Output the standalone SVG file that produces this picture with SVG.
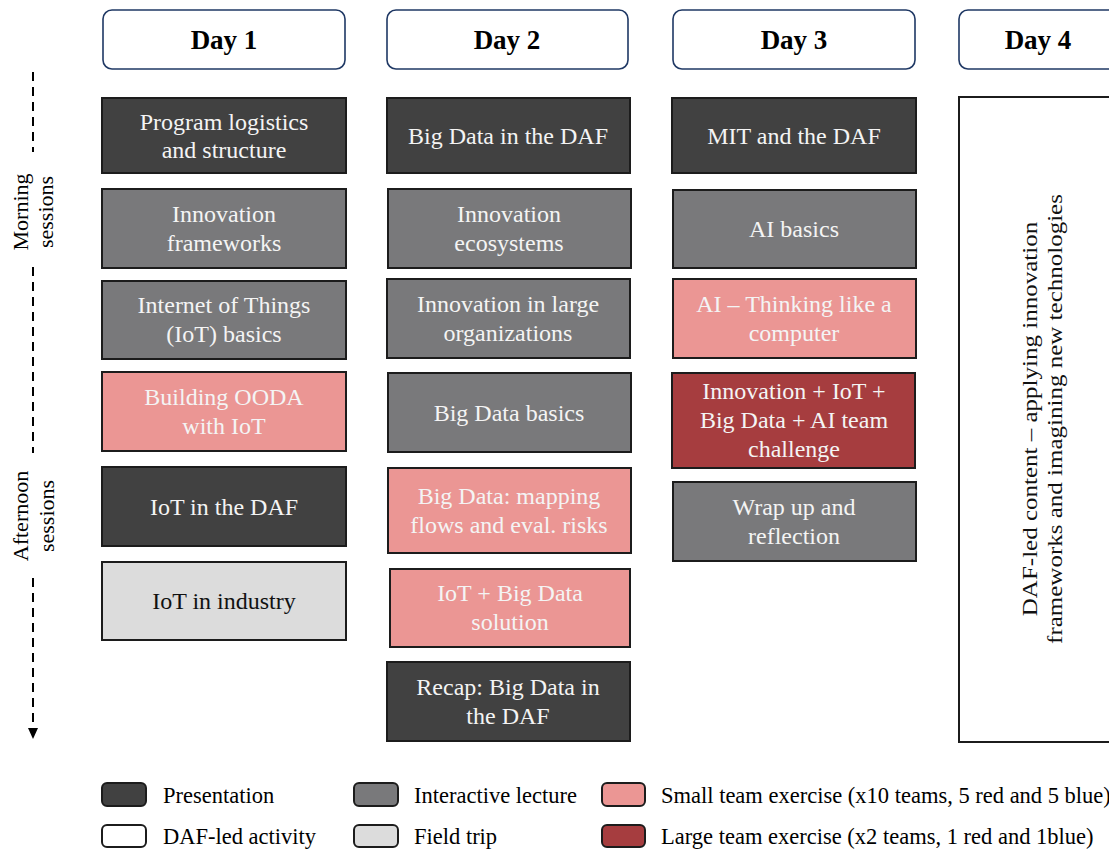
<svg xmlns="http://www.w3.org/2000/svg" width="1109" height="850" viewBox="0 0 1109 850">
<style>
text{font-family:"Liberation Serif","Times New Roman",serif;}
.hdr{fill:#fff;stroke:#1f3864;stroke-width:1.6;}
.ht{font-size:27px;font-weight:bold;fill:#000;text-anchor:middle;}
.box{stroke:#1c1c1c;stroke-width:2;}
.pres{fill:#414141;}
.lect{fill:#79797b;}
.small{fill:#eb9694;}
.large{fill:#a63d3f;}
.field{fill:#dcdcdc;}
.daf{fill:#fff;}
.bt{font-size:24px;fill:#f4f4f4;text-anchor:middle;}
.btd{font-size:24px;fill:#111;text-anchor:middle;}
.d4t{font-size:25px;fill:#111;text-anchor:middle;}
.ax{font-size:22px;fill:#000;text-anchor:middle;}
.lg{font-size:22.5px;fill:#000;}
.sw{stroke:#1c1c1c;stroke-width:2;}
.dash{stroke:#000;stroke-width:2;stroke-dasharray:9 6;fill:none;}
</style>

<g id="header-day1"><rect class="hdr" x="103" y="10" width="242" height="59" rx="9"/><text class="ht" x="224" y="49">Day 1</text></g>
<g id="header-day2"><rect class="hdr" x="387" y="10" width="241" height="59" rx="9"/><text class="ht" x="507" y="49">Day 2</text></g>
<g id="header-day3"><rect class="hdr" x="673" y="10" width="242" height="59" rx="9"/><text class="ht" x="794" y="49">Day 3</text></g>
<g id="header-day4"><rect class="hdr" x="959" y="10" width="200" height="59" rx="9"/><text class="ht" x="1038" y="49">Day 4</text></g>

<!-- Day 1 -->
<g id="d1-program"><rect class="box pres" x="102" y="98" width="244" height="75"/><text class="bt" x="224" y="130">Program logistics</text><text class="bt" x="224" y="158">and structure</text></g>
<g id="d1-frameworks"><rect class="box lect" x="102" y="189" width="244" height="79"/><text class="bt" x="224" y="222">Innovation</text><text class="bt" x="224" y="251">frameworks</text></g>
<g id="d1-iot-basics"><rect class="box lect" x="102" y="281" width="244" height="78"/><text class="bt" x="224" y="313">Internet of Things</text><text class="bt" x="224" y="342">(IoT) basics</text></g>
<g id="d1-ooda"><rect class="box small" x="102" y="372" width="244" height="79"/><text class="bt" x="224" y="405">Building OODA</text><text class="bt" x="224" y="434">with IoT</text></g>
<g id="d1-iot-daf"><rect class="box pres" x="102" y="467" width="244" height="79"/><text class="bt" x="224" y="515">IoT in the DAF</text></g>
<g id="d1-iot-industry"><rect class="box field" x="102" y="562" width="244" height="78"/><text class="btd" x="224" y="609">IoT in industry</text></g>

<!-- Day 2 -->
<g id="d2-bigdata-daf"><rect class="box pres" x="387" y="98" width="243" height="75"/><text class="bt" x="508" y="144">Big Data in the DAF</text></g>
<g id="d2-ecosystems"><rect class="box lect" x="388" y="189" width="243" height="79"/><text class="bt" x="509" y="222">Innovation</text><text class="bt" x="509" y="251">ecosystems</text></g>
<g id="d2-large-orgs"><rect class="box lect" x="387" y="279" width="243" height="79"/><text class="bt" x="508" y="312">Innovation in large</text><text class="bt" x="508" y="341">organizations</text></g>
<g id="d2-bigdata-basics"><rect class="box lect" x="388" y="373" width="243" height="79"/><text class="bt" x="509" y="421">Big Data basics</text></g>
<g id="d2-mapping"><rect class="box small" x="388" y="468" width="243" height="85"/><text class="bt" x="509" y="504">Big Data: mapping</text><text class="bt" x="509" y="533">flows and eval. risks</text></g>
<g id="d2-solution"><rect class="box small" x="390" y="569" width="240" height="78"/><text class="bt" x="510" y="601">IoT + Big Data</text><text class="bt" x="510" y="630">solution</text></g>
<g id="d2-recap"><rect class="box pres" x="387" y="662" width="243" height="79"/><text class="bt" x="508" y="695">Recap: Big Data in</text><text class="bt" x="508" y="724">the DAF</text></g>

<!-- Day 3 -->
<g id="d3-mit"><rect class="box pres" x="672" y="98" width="244" height="75"/><text class="bt" x="794" y="144">MIT and the DAF</text></g>
<g id="d3-ai-basics"><rect class="box lect" x="673" y="190" width="243" height="78"/><text class="bt" x="794" y="237">AI basics</text></g>
<g id="d3-ai-thinking"><rect class="box small" x="673" y="279" width="243" height="79"/><text class="bt" x="794" y="312">AI – Thinking like a</text><text class="bt" x="794" y="341">computer</text></g>
<g id="d3-challenge"><rect class="box large" x="672" y="373" width="243" height="95"/><text class="bt" x="794" y="399">Innovation + IoT +</text><text class="bt" x="794" y="428">Big Data + AI team</text><text class="bt" x="794" y="457">challenge</text></g>
<g id="d3-wrapup"><rect class="box lect" x="673" y="482" width="243" height="79"/><text class="bt" x="794" y="515">Wrap up and</text><text class="bt" x="794" y="544">reflection</text></g>

<!-- Day 4 -->
<g id="d4-daf"><rect class="box daf" x="959" y="97" width="200" height="645"/>
<g transform="translate(1037,419) rotate(-90) scale(1,0.82)">
<text class="d4t" x="0" y="0">DAF-led content – applying innovation</text>
<text class="d4t" x="0" y="30.5">frameworks and imagining new technologies</text>
</g></g>

<!-- Axis -->
<g id="connectors">
<line class="dash" x1="33" y1="72" x2="33" y2="152"/>
<line class="dash" x1="33" y1="267" x2="33" y2="453"/>
<line class="dash" x1="33" y1="578" x2="33" y2="728"/>
<polygon points="28,728 38,728 33,739" fill="#000"/>
</g>
<g id="axis-labels">
<g transform="translate(28,212) rotate(-90)"><text class="ax" x="0" y="0">Morning</text><text class="ax" x="0" y="25">sessions</text></g>
<g transform="translate(28,516) rotate(-90)"><text class="ax" x="0" y="0">Afternoon</text><text class="ax" x="0" y="26">sessions</text></g>
</g>

<!-- Legend -->
<g id="legend">
<g id="lg-presentation"><rect class="sw pres" x="102" y="783" width="44" height="23" rx="5"/><text class="lg" x="163" y="803">Presentation</text></g>
<g id="lg-daf"><rect class="sw daf" x="102" y="825" width="44" height="22" rx="5"/><text class="lg" x="163" y="844">DAF-led activity</text></g>
<g id="lg-lecture"><rect class="sw lect" x="354" y="783" width="44" height="23" rx="5"/><text class="lg" x="414" y="803">Interactive lecture</text></g>
<g id="lg-field"><rect class="sw field" x="354" y="825" width="44" height="22" rx="5"/><text class="lg" x="414" y="844">Field trip</text></g>
<g id="lg-small"><rect class="sw small" x="602" y="783" width="43" height="23" rx="5"/><text class="lg" x="661" y="803">Small team exercise (x10 teams, 5 red and 5 blue)</text></g>
<g id="lg-large"><rect class="sw large" x="602" y="825" width="43" height="22" rx="5"/><text class="lg" x="661" y="844">Large team exercise (x2 teams, 1 red and 1blue)</text></g>
</g>
</svg>
